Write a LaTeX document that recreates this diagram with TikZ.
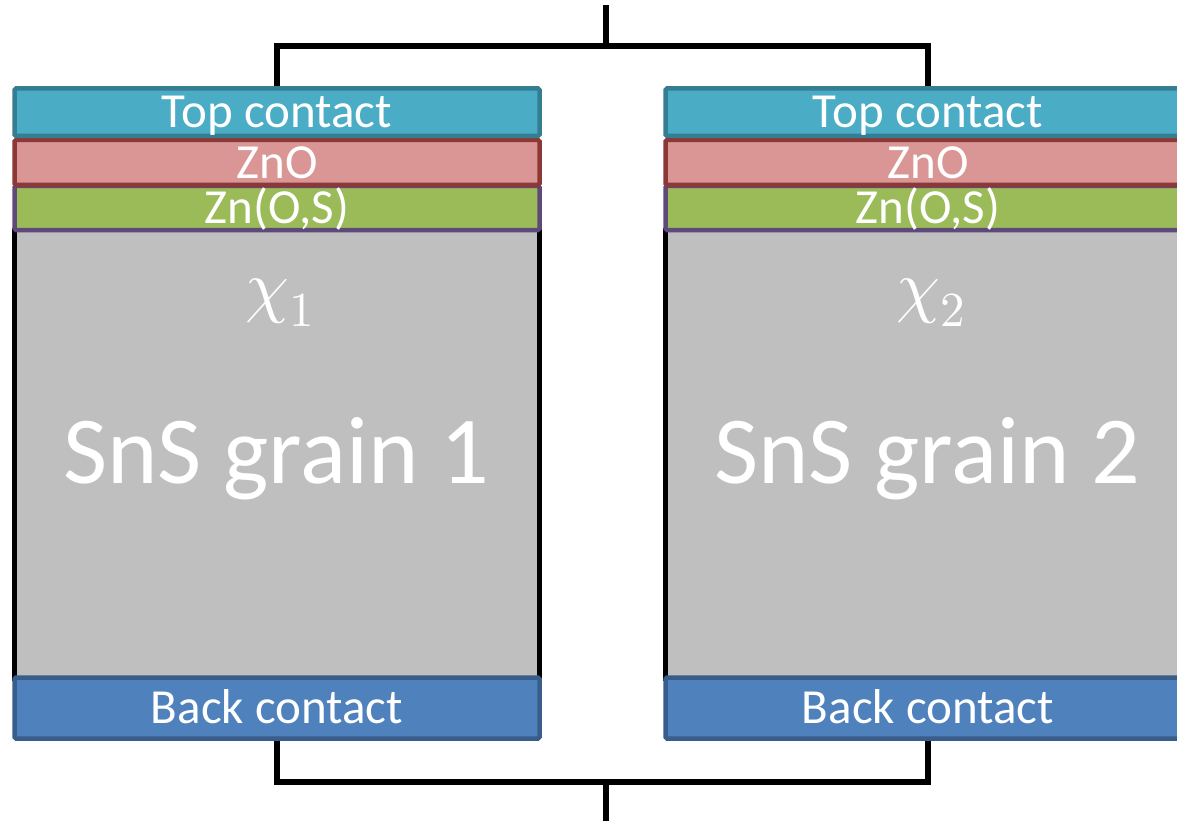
\documentclass[tikz,border=0pt]{standalone}
\usepackage{fontspec}
\usepackage{unicode-math}
\setmainfont{Carlito}
\setmathfont{Latin Modern Math}
\definecolor{topfill}{HTML}{4BACC6}
\definecolor{topline}{HTML}{357D91}
\definecolor{znofill}{HTML}{D99694}
\definecolor{znoline}{HTML}{8C3836}
\definecolor{znosfill}{HTML}{9BBB59}
\definecolor{znosline}{HTML}{5F497A}
\definecolor{grainfill}{HTML}{BFBFBF}
\definecolor{backfill}{HTML}{4F81BD}
\definecolor{backline}{HTML}{385D8A}
\begin{document}
\begin{tikzpicture}[x=1pt,y=-1pt,
  layer/.style={rectangle, minimum width=525pt, inner sep=0pt, line width=4.5pt,
    text=white, font=\fontsize{49}{52}\selectfont, text height=31.5pt, text depth=0pt,
    rounded corners=1.5pt},
  topbox/.style={layer, fill=topfill, draw=topline, minimum height=47.5pt},
  znobox/.style={layer, fill=znofill, draw=znoline, minimum height=45pt},
  znosbox/.style={layer, fill=znosfill, draw=znosline, minimum height=44pt},
  backbox/.style={layer, fill=backfill, draw=backline, minimum height=61pt},
  grainbox/.style={rectangle, minimum width=525pt, minimum height=449pt, inner sep=0pt,
    fill=grainfill, draw=black, line width=4.5pt},
  grainlabel/.style={text=white, font=\fontsize{96}{100}\selectfont, inner sep=0pt, anchor=base},
  chilabel/.style={text=white, font=\fontsize{70}{76}\selectfont, inner sep=0pt, anchor=base},
  wire/.style={draw=black, line width=5.5pt}
]
\useasboundingbox (0,0) rectangle (1177,821);
\clip (0,0) rectangle (1177,821);
% grain 1
\node[grainbox] (g1) at (277,454.5) {};
\node[grainlabel] (s1) at (276,483) {SnS grain 1};
\node[chilabel] (c1) at (280,309) {$\chi_1$};
\node[backbox] (b1) at (277,708) {Back contact};
\node[znosbox] (zs1) at (277,208) {Zn(O,S)};
\node[znobox] (zo1) at (277,162.5) {ZnO};
\node[topbox] (t1) at (277,112.25) {Top contact};
% grain 2
\node[grainbox] (g2) at (928,454.5) {};
\node[grainlabel] (s2) at (927,483) {SnS grain 2};
\node[chilabel] (c2) at (931,309) {$\chi_2$};
\node[backbox] (b2) at (928,708) {Back contact};
\node[znosbox] (zs2) at (928,208) {Zn(O,S)};
\node[znobox] (zo2) at (928,162.5) {ZnO};
\node[topbox] (t2) at (928,112.25) {Top contact};
% wires
\coordinate (topterm) at (606,5);
\coordinate (botterm) at (606,821);
\coordinate (tj) at (606,46);
\coordinate (bj) at (606,782);
\draw[wire] (topterm) -- (tj);
\draw[wire] (t1.north) |- (tj) -| (t2.north);
\draw[wire] (b1.south) |- (bj) -| (b2.south);
\draw[wire] (bj) -- (botterm);
\end{tikzpicture}
\end{document}
